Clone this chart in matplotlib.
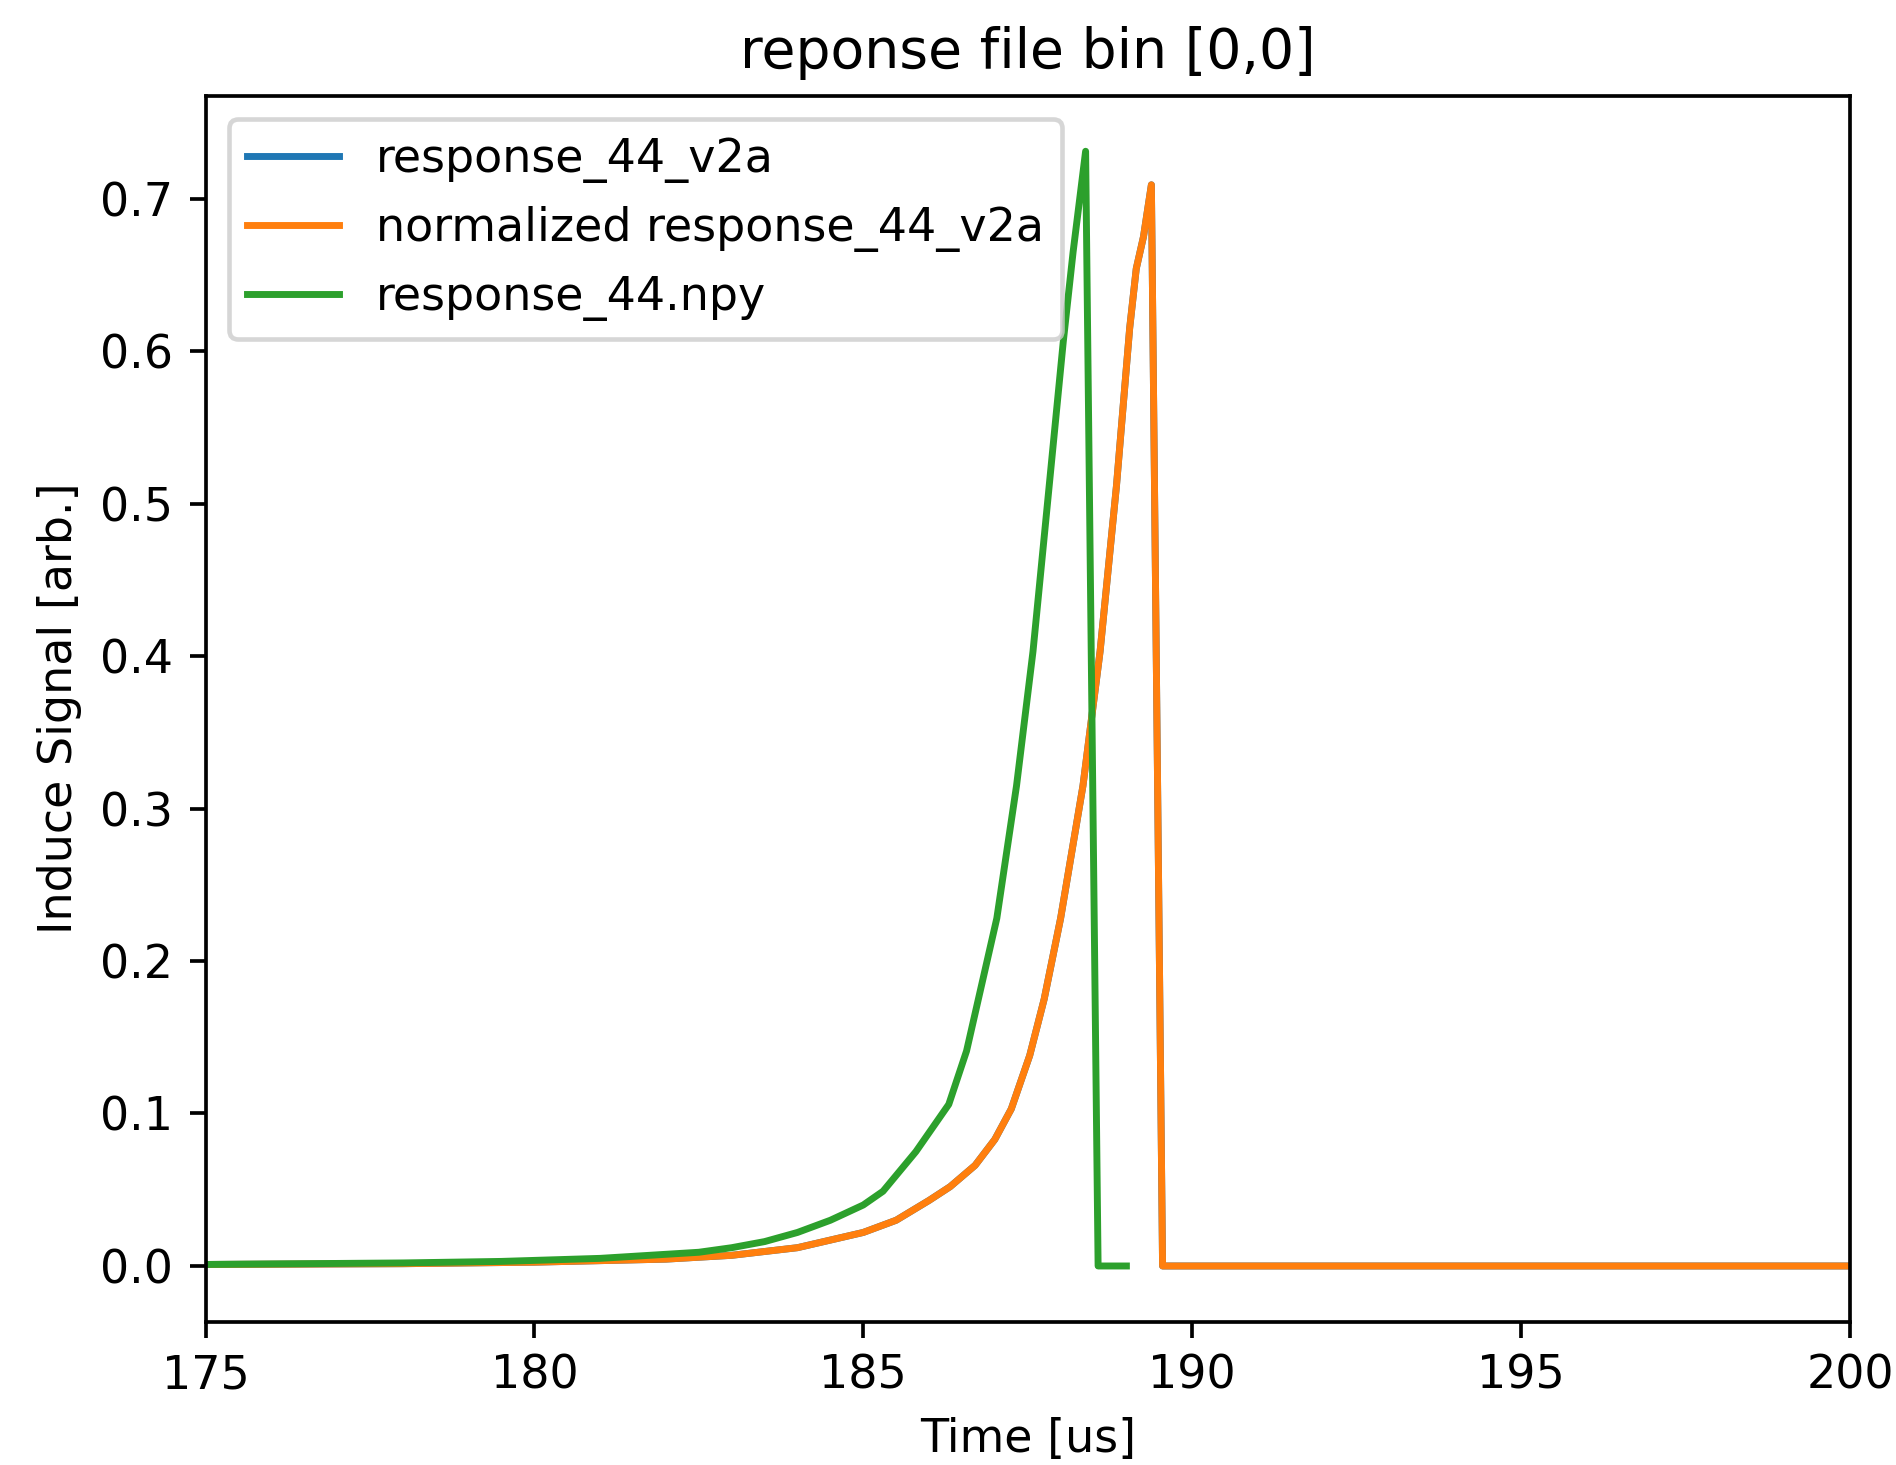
import matplotlib
matplotlib.use("Agg")
import matplotlib.pyplot as plt
import numpy as np

# response_44_v2a (the normalized one sits right on top of it)
t_v2a = [170, 175, 178, 180, 182, 183, 184, 185, 185.5, 186, 186.32, 186.7, 187.0, 187.25,
         187.53, 187.75, 188.0, 188.34, 188.6, 188.85, 189.05, 189.15, 189.26, 189.38, 189.55,
         190, 195, 200]
y_v2a = [0.0005, 0.001, 0.0015, 0.0025, 0.0045, 0.007, 0.012, 0.022, 0.03, 0.043, 0.052, 0.066,
         0.083, 0.103, 0.138, 0.175, 0.228, 0.315, 0.403, 0.512, 0.615, 0.654, 0.675, 0.709,
         0.0, 0.0, 0.0, 0.0]

# response_44.npy
t_npy = [170, 175, 178, 179.5, 181, 182.5, 183, 183.5, 184, 184.5, 184.7, 185, 185.3, 185.8,
         186.3, 186.57, 187.03, 187.33, 187.58, 187.8, 188.04, 188.19, 188.38, 188.57, 189.0]
y_npy = [0.0005, 0.001, 0.002, 0.003, 0.005, 0.009, 0.012, 0.016, 0.022, 0.03, 0.034, 0.04,
         0.049, 0.075, 0.106, 0.141, 0.228, 0.315, 0.403, 0.5, 0.606, 0.665, 0.731, 0.0, 0.0]

dpi = 331.6
fig = plt.figure(figsize=(1896 / dpi, 1465 / dpi), dpi=dpi)
ax = fig.add_axes([0.1084, 0.0978, 0.9757 - 0.1084, 0.9348 - 0.0978])

ax.plot(t_v2a, y_v2a, label="response_44_v2a")
ax.plot(t_v2a, y_v2a, label="normalized response_44_v2a")
ax.plot(t_npy, y_npy, label="response_44.npy")

ax.set_xlim(175, 200)
ax.set_title("reponse file bin [0,0]")
ax.set_xlabel("Time [us]")
ax.set_ylabel("Induce Signal [arb.]")
ax.legend(loc="upper left")

fig.savefig("out.png", dpi=dpi)
